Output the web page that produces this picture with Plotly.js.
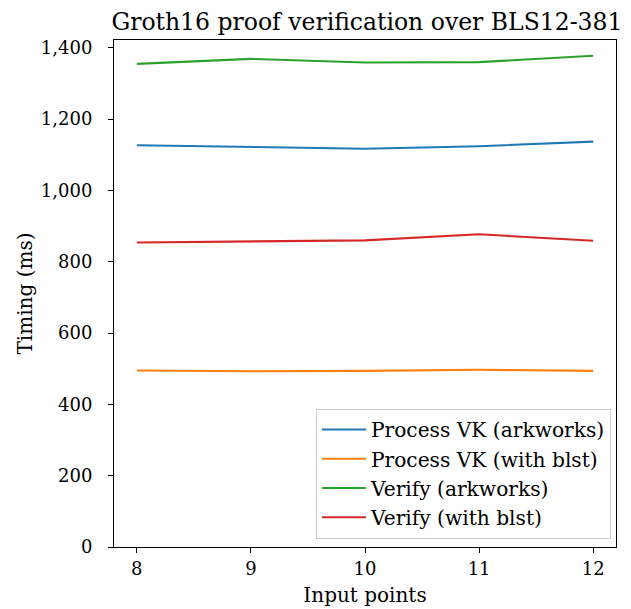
<!DOCTYPE html>
<html>
<head>
<meta charset="utf-8">
<script src="https://cdn.plot.ly/plotly-3.0.1.min.js"></script>
<style>html,body{margin:0;padding:0;background:#fff;}</style>
</head>
<body>
<div id="chart" style="width:631px;height:609px;"></div>
<script>
const inputPoints = [8, 9, 10, 11, 12];
const processVkArkworks = [1127, 1121, 1117, 1124, 1137];
const processVkBlst = [495, 493, 494, 497, 494];
const verifyArkworks = [1355, 1369, 1359, 1360, 1378];
const verifyBlst = [854, 856, 860, 877, 859];
const seriesNames = ["Process VK (arkworks)", "Process VK (with blst)", "Verify (arkworks)", "Verify (with blst)"];
const seriesColors = ["#1f77b4", "#ff7f0e", "#2ca02c", "#d62728"];
const seriesValues = [processVkArkworks, processVkBlst, verifyArkworks, verifyBlst];

const font = "DejaVu Serif";
const traces = seriesValues.map((v, i) => ({
  x: inputPoints, y: v, type: "scatter", mode: "lines",
  name: seriesNames[i], line: {color: seriesColors[i], width: 2.1}
}));

const layout = {
  width: 631, height: 609,
  margin: {l: 114, r: 15, t: 40, b: 62},
  paper_bgcolor: "#fff", plot_bgcolor: "#fff",
  font: {family: font, size: 18, color: "#000"},
  title: {text: "Groth16 proof verification over BLS12-381", font: {family: font, size: 23.5, color: "#000"},
          x: 0.5815, xanchor: "center", yref: "paper", y: 1, yanchor: "bottom", pad: {b: 10}},
  xaxis: {
    range: [7.8, 12.2], tickvals: inputPoints, ticks: "outside", ticklen: 5, tickwidth: 1, tickcolor: "#000",
    showline: true, linecolor: "#000", linewidth: 1, mirror: true, showgrid: false, zeroline: false,
    tickfont: {family: font, size: 18},
    title: {text: "Input points", font: {family: font, size: 20}, standoff: 10}
  },
  yaxis: {
    range: [0, 1422], dtick: 200, tickformat: ",d", ticks: "outside", ticklen: 5, tickwidth: 1, tickcolor: "#000",
    showline: true, linecolor: "#000", linewidth: 1, mirror: true, showgrid: false, zeroline: false,
    tickfont: {family: font, size: 18}, ticklabelstandoff: 12,
    title: {text: "Timing (ms)", font: {family: font, size: 20}, standoff: 2}
  },
  legend: {
    x: 0.99, y: 0.016, xanchor: "right", yanchor: "bottom",
    bgcolor: "rgba(255,255,255,0.8)", bordercolor: "#cccccc", borderwidth: 1,
    font: {family: font, size: 20.2, color: "#000"}, tracegroupgap: 0, itemwidth: 44
  },
  showlegend: true
};

Plotly.newPlot("chart", traces, layout, {displayModeBar: false, staticPlot: true});
</script>
</body>
</html>
